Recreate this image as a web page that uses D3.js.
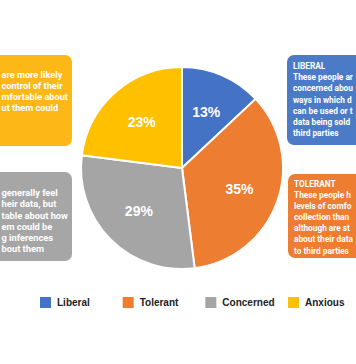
<!DOCTYPE html>
<html><head><meta charset="utf-8">
<script src="https://cdn.jsdelivr.net/npm/d3@7"></script>
<style>html,body{margin:0;padding:0;background:#fff;overflow:hidden}</style>
</head><body>
<svg id="c" width="356" height="364"></svg>
<script>
const categories = ["Liberal", "Tolerant", "Concerned", "Anxious"];
const values = [13, 35, 29, 23];
const colors = ["#4472C4", "#ED7D31", "#A5A5A5", "#FFC000"];
const boxColors = ["#4B7BC6", "#EE7D32", "#A6A6A6", "#FDB817"];
const liberalText = ["LIBERAL", "These people ar", "concerned abou", "ways in which d", "can be used or t", "data being sold", "third parties"];
const tolerantText = ["TOLERANT", "These people h", "levels of comfo", "collection than", "although are st", "about their data", "to third parties"];
const concernedText = ["generally feel", "heir data, but", "table about how", "em could be", "g inferences", "bout them"];
const anxiousText = ["are more likely", "control of their", "mfortable about", "ut them could"];

const svg = d3.select("#c");
const W = 356, r = 7;

function boxPath(x0, y0, x1, y1, roundLeft) {
  const p = d3.path();
  if (roundLeft) {
    p.moveTo(x1, y0); p.lineTo(x0 + r, y0); p.arcTo(x0, y0, x0, y0 + r, r);
    p.lineTo(x0, y1 - r); p.arcTo(x0, y1, x0 + r, y1, r); p.lineTo(x1, y1);
  } else {
    p.moveTo(x0, y0); p.lineTo(x1 - r, y0); p.arcTo(x1, y0, x1, y0 + r, r);
    p.lineTo(x1, y1 - r); p.arcTo(x1, y1, x1 - r, y1, r); p.lineTo(x0, y1);
  }
  p.closePath();
  return p.toString();
}

function box(x0, y0, x1, y1, roundLeft, fill, lines, tx, ty0, lh, maxRight) {
  svg.append("path").attr("d", boxPath(x0, y0, x1, y1, roundLeft)).attr("fill", fill);
  const base = 9.6;
  const t = svg.append("g");
  const sel = t.selectAll("text").data(lines).join("text")
    .attr("x", tx).attr("y", (d, i) => ty0 + i * lh)
    .attr("dy", "0.35em")
    .attr("fill", "#fff")
    .attr("font-family", "Roboto, 'Liberation Sans', Arial, sans-serif")
    .attr("font-weight", 700)
    .attr("font-size", base)
    .text(d => d);
  let maxLen = 0;
  sel.each(function () { maxLen = Math.max(maxLen, this.getComputedTextLength()); });
  const avail = maxRight - tx;
  if (maxLen > avail) sel.attr("font-size", base * avail / maxLen);
}
box(0, 55, 72, 146, false, boxColors[3], anxiousText, 1.5, 75, 11, 68);
box(0, 172, 72, 261, false, boxColors[2], concernedText, 1.5, 193, 11.2, 68);
box(287, 55, W, 145, true, boxColors[0], liberalText, 293, 66, 11.2, 353);
box(288, 174, W, 258, true, boxColors[1], tolerantText, 294, 184, 11.1, 353);

// pie
const cx = 182, cy = 168, R = 101;
const pie = d3.pie().sort(null).value(d => d.v).startAngle(0).endAngle(2 * Math.PI);
const data = categories.map((c, i) => ({ c, v: values[i], col: colors[i] }));
const arcs = pie(data);
const arc = d3.arc().innerRadius(0).outerRadius(R);
const labelArc = d3.arc().innerRadius(61).outerRadius(61);
const g = svg.append("g").attr("transform", `translate(${cx},${cy})`);
g.selectAll("path").data(arcs).join("path")
  .attr("d", arc).attr("fill", d => d.data.col)
  .attr("stroke", "#fff").attr("stroke-width", 2).attr("stroke-linejoin", "round");
g.selectAll("text.lab").data(arcs).join("text").attr("class", "lab")
  .attr("transform", d => `translate(${labelArc.centroid(d)})`)
  .attr("text-anchor", "middle").attr("dy", "0.36em")
  .attr("fill", "#fff")
  .attr("font-family", "'Liberation Sans', Arial, sans-serif")
  .attr("font-weight", 700).attr("font-size", 14)
  .text(d => d.data.v + "%");

// legend
const lx = d3.scalePoint().domain(categories).range([40, 288]);
const lg = svg.append("g").attr("transform", "translate(0,297)");
const items = lg.selectAll("g").data(categories).join("g")
  .attr("transform", d => `translate(${lx(d)},0)`);
items.append("rect").attr("width", 11).attr("height", 11)
  .attr("fill", (d, i) => colors[i]);
items.append("text").attr("x", 17).attr("y", 5.5).attr("dy", "0.36em")
  .attr("fill", "#222")
  .attr("font-family", "'Liberation Sans', Arial, sans-serif")
  .attr("font-weight", 700).attr("font-size", 10)
  .text(d => d);
</script>
</body></html>
